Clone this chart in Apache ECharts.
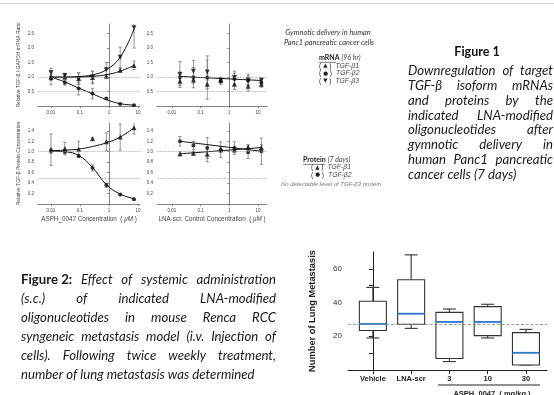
<!DOCTYPE html>
<html>
<head>
<meta charset="utf-8">
<script src="https://cdn.jsdelivr.net/npm/echarts@6/dist/echarts.min.js"></script>
<style>
html, body { margin: 0; padding: 0; background: #fff; }
#main { width: 554px; height: 395px; }
</style>
</head>
<body>
<div id="main"></div>
<script>
// concentrations (uM) used in the dose responses
var asphConc = [0.01, 0.03, 0.09, 0.27, 0.81, 2.43, 7.29];
var scrConc = [0.019, 0.056, 0.17, 0.5, 1.5, 4.5, 13];
var concTicks = [0.01, 0.1, 1, 10];
var concTickLabels = ['0.01', '0.1', '1', '10'];
var mrnaTicks = [0.5, 1.0, 1.5, 2.0, 2.5];
var proteinTicks = [0.2, 0.4, 0.6, 0.8, 1.0, 1.2, 1.4];

// mRNA (96 hr), ASPH_0047
var mrnaAsphB1 = [0.98, 1.0, 0.95, 0.98, 1.03, 1.23, 1.4];
var mrnaAsphB1Err = [0.1, 0.08, 0.2, 0.22, 0.05, 0.06, 0.15];
var mrnaAsphB1Fit = [0.99, 0.99, 1.0, 1.02, 1.08, 1.2, 1.4];
var mrnaAsphB2 = [0.98, 0.8, 0.6, 0.43, 0.26, 0.07, 0.03];
var mrnaAsphB2Err = [0.25, 0.08, 0.22, 0.18, 0.03, 0.02, 0.02];
var mrnaAsphB2Fit = [1.0, 0.83, 0.62, 0.42, 0.22, 0.08, 0.03];
var mrnaAsphB3 = [1.15, 1.05, 0.94, 1.0, 1.25, 1.68, 2.7];
var mrnaAsphB3Err = [0.15, 0.08, 0.2, 0.2, 0.25, 0.35, 0.7];
var mrnaAsphB3Fit = [1.0, 1.0, 1.02, 1.07, 1.25, 1.68, 2.65];

// mRNA (96 hr), LNA-scr control
var mrnaScrB1 = [0.86, 0.91, 0.75, 0.9, 0.75, 0.68, 0.75];
var mrnaScrB1Err = [0.15, 0.12, 0.15, 0.08, 0.18, 0.16, 0.1];
var mrnaScrB2 = [0.98, 0.98, 0.98, 0.85, 0.93, 0.88, 0.8];
var mrnaScrB2Err = [0.2, 0.35, 0.75, 0.1, 0.2, 0.15, 0.1];
var mrnaScrB3 = [1.09, 1.2, 1.17, 0.89, 0.98, 0.9, 0.89];
var mrnaScrB3Err = [0.45, 0.38, 0.42, 0.1, 0.22, 0.2, 0.08];
var mrnaScrFit = [1.02, 0.88];

// protein (7 days), ASPH_0047
var protAsphB1 = [1.04, 1.06, 1.05, 1.25, 1.19, 1.28, 1.46];
var protAsphB1Err = [0.3, 0.12, 0.15, 0.02, 0.17, 0.25, 0.12];
var protAsphB1Fit = [1.02, 1.03, 1.05, 1.1, 1.17, 1.28, 1.46];
var protAsphB2 = [1.02, 1.0, 0.92, 0.69, 0.36, 0.18, 0.09];
var protAsphB2Err = [0.05, 0.04, 0.03, 0.06, 0.04, 0.02, 0.02];
var protAsphB2Fit = [1.01, 1.0, 0.93, 0.7, 0.37, 0.19, 0.1];

// protein (7 days), LNA-scr control
var protScrB1 = [0.96, 0.97, 0.95, 1.04, 1.04, 1.09, 1.08];
var protScrB1Err = [0.04, 0.03, 0.14, 0.05, 0.05, 0.05, 0.05];
var protScrB1Fit = [0.96, 1.08];
var protScrB2 = [1.2, 1.12, 1.07, 1.04, 1.07, 0.99, 1.01];
var protScrB2Err = [0.09, 0.08, 0.2, 0.15, 0.12, 0.12, 0.25];
var protScrB2Fit = [1.2, 1.01];

// lung metastasis box plot: [min, Q1, median, Q3, max]
var metCategories = ['Vehicle', 'LNA-scr', '3', '10', '30'];
var metBoxes = [
    [19, 23.4, 27.3, 40.8, 49],
    [24.7, 27.1, 33.4, 53.5, 68.3],
    [5, 6.8, 28.5, 34.2, 36.2],
    [19, 20.4, 28.5, 37.6, 39],
    [3, 3, 10.2, 22.2, 24.1]
];
var metReference = 27;
var metTicks = [10, 20, 30, 40, 50, 60];
var metTickLabels = [20, 40, 60];

var fig1Lines = [
    'Downregulation of target',
    'TGF-\u03b2 isoform mRNAs',
    'and proteins by the',
    'indicated LNA-modified',
    'oligonucleotides after',
    'gymnotic delivery in',
    'human Panc1 pancreatic',
    'cancer cells (7 days)'
];
var fig2Lines = [
    '*Figure_2: Effect of systemic administration',
    '(s.c.) of indicated LNA-modified',
    'oligonucleotides in mouse Renca RCC',
    'syngeneic metastasis model (i.v. Injection of',
    'cells). Following twice weekly treatment,',
    'number of lung metastasis was determined'
];

var mychart = echarts.init(document.getElementById('main'));
var lg = function (c) { return Math.log10(c); };
var SANS = 'Liberation Sans';
var CAPTION = 'Lato';

function errorBarItem(params, api) {
    var x = api.value(0);
    var top = api.coord([x, api.value(2)]);
    var bot = api.coord([x, api.value(1)]);
    var w = 1.6;
    var st = { stroke: '#777', lineWidth: 0.8 };
    return {
        type: 'group',
        children: [
            { type: 'line', shape: { x1: top[0], y1: top[1], x2: bot[0], y2: bot[1] }, style: st },
            { type: 'line', shape: { x1: top[0] - w, y1: top[1], x2: top[0] + w, y2: top[1] }, style: st },
            { type: 'line', shape: { x1: bot[0] - w, y1: bot[1], x2: bot[0] + w, y2: bot[1] }, style: st }
        ]
    };
}

function panelSeries(gi, conc, groups) {
    var out = [];
    groups.forEach(function (g) {
        out.push({
            type: 'custom', xAxisIndex: gi, yAxisIndex: gi, clip: true, silent: true, z: 2,
            renderItem: errorBarItem,
            data: conc.map(function (c, i) { return [lg(c), g.vals[i] - g.errs[i], g.vals[i] + g.errs[i]]; })
        });
        if (g.fit) {
            var fx = g.fit.length === conc.length ? conc : [conc[0], conc[conc.length - 1]];
            out.push({
                type: 'line', xAxisIndex: gi, yAxisIndex: gi, showSymbol: false, smooth: 0.4, z: 3,
                lineStyle: { color: '#111', width: 1 }, silent: true,
                data: fx.map(function (c, i) { return [lg(c), g.fit[i]]; })
            });
        }
        out.push({
            type: 'scatter', xAxisIndex: gi, yAxisIndex: gi, z: 4, silent: true,
            symbol: g.symbol, symbolSize: g.symbol === 'circle' ? 4 : 5,
            symbolRotate: g.rotate || 0,
            itemStyle: { color: '#111' },
            data: conc.map(function (c, i) { return [lg(c), g.vals[i]]; })
        });
    });
    // dotted reference lines at 1.0 and 0.5
    out.push({
        type: 'line', xAxisIndex: gi, yAxisIndex: gi, data: [], silent: true,
        markLine: {
            silent: true, symbol: 'none', label: { show: false },
            lineStyle: { color: '#999', type: 'dotted', width: 0.8 },
            data: [{ yAxis: 1 }, { yAxis: 0.5 }]
        }
    });
    return out;
}

function concAxis(gi, min, max, name) {
    var ax = {
        type: 'value', gridIndex: gi, min: min, max: max,
        splitLine: { show: false },
        axisLine: { lineStyle: { color: '#666', width: 0.8 } },
        axisTick: { length: 2, lineStyle: { color: '#666', width: 0.8 }, customValues: concTicks.map(lg) },
        axisLabel: {
            customValues: concTicks.map(lg), fontSize: 4.5, color: '#444', fontFamily: SANS, margin: 4,
            formatter: function (v) { return concTickLabels[Math.round(v) + 2]; }
        }
    };
    if (name) {
        ax.name = name;
        ax.nameLocation = 'middle';
        ax.nameGap = 12;
        ax.nameTextStyle = { fontSize: 6.3, color: '#444', fontFamily: SANS, rich: { i: { fontStyle: 'italic', fontSize: 6.3, color: '#444', fontFamily: SANS } } };
    }
    return ax;
}

function ratioAxis(gi, max, ticks, name) {
    var ax = {
        type: 'value', gridIndex: gi, min: 0, max: max,
        splitLine: { show: false },
        axisLine: { show: true, lineStyle: { color: '#666', width: 0.8 } },
        axisTick: { show: true, length: 2, lineStyle: { color: '#666', width: 0.8 }, customValues: ticks },
        axisLabel: {
            customValues: ticks, fontSize: 4.5, color: '#444', fontFamily: SANS, margin: 4,
            formatter: function (v) { return v.toFixed(1); }
        }
    };
    if (name) {
        ax.name = name;
        ax.nameLocation = 'middle';
        ax.nameGap = 17;
        ax.nameTextStyle = { fontSize: 5, color: '#444', fontFamily: SANS };
    }
    return ax;
}

function boxItem(params, api) {
    var idx = api.value(0);
    var pMin = api.coord([idx, api.value(1)]);
    var pQ1 = api.coord([idx, api.value(2)]);
    var pMed = api.coord([idx, api.value(3)]);
    var pQ3 = api.coord([idx, api.value(4)]);
    var pMax = api.coord([idx, api.value(5)]);
    var cx = pMed[0], hw = 13.5, cw = 6.5;
    var st = { stroke: '#333', lineWidth: 1.1, fill: null };
    return {
        type: 'group',
        children: [
            { type: 'line', shape: { x1: cx, y1: pMax[1], x2: cx, y2: pQ3[1] }, style: st },
            { type: 'line', shape: { x1: cx, y1: pQ1[1], x2: cx, y2: pMin[1] }, style: st },
            { type: 'line', shape: { x1: cx - cw, y1: pMax[1], x2: cx + cw, y2: pMax[1] }, style: st },
            { type: 'line', shape: { x1: cx - cw, y1: pMin[1], x2: cx + cw, y2: pMin[1] }, style: st },
            { type: 'rect', shape: { x: cx - hw, y: pQ3[1], width: 2 * hw, height: pQ1[1] - pQ3[1] }, style: { stroke: '#333', lineWidth: 1.1, fill: '#fff' } },
            { type: 'line', shape: { x1: cx - hw, y1: pMed[1], x2: cx + hw, y2: pMed[1] }, style: { stroke: '#2a78cc', lineWidth: 1.8 } }
        ]
    };
}

// justified caption text, word by word
var measure = document.createElement('canvas').getContext('2d');
function justify(lines, left, right, y0, step, size) {
    var els = [];
    lines.forEach(function (line, li) {
        var words = line.split(' ').map(function (t) {
            var bold = t.charAt(0) === '*';
            var w = {
                text: bold ? t.slice(1).replace(/_/g, ' ') : t,
                fontStyle: bold ? 'normal' : 'italic',
                fontWeight: bold ? 'bold' : 'normal'
            };
            measure.font = w.fontStyle + ' ' + w.fontWeight + ' ' + size + 'px ' + CAPTION;
            w.width = measure.measureText(w.text).width;
            return w;
        });
        measure.font = 'italic normal ' + size + 'px ' + CAPTION;
        var space = measure.measureText(' ').width;
        var total = words.reduce(function (s, w) { return s + w.width; }, 0);
        var last = li === lines.length - 1;
        var gap = last ? space : (right - left - total) / (words.length - 1);
        var x = left;
        words.forEach(function (w) {
            els.push({
                type: 'text', x: x, y: y0 + li * step, silent: true,
                style: {
                    text: w.text, fontSize: size, fontFamily: CAPTION, fontStyle: w.fontStyle,
                    fontWeight: w.fontWeight, fill: '#1a1a1a', textAlign: 'left', textVerticalAlign: 'middle'
                }
            });
            x += w.width + gap;
        });
    });
    return els;
}

function label(x, y, text, opts) {
    var style = Object.assign({ text: text, fontFamily: SANS, fontSize: 7, fill: '#333', textAlign: 'left', textVerticalAlign: 'middle' }, opts || {});
    return { type: 'text', x: x, y: y, silent: true, style: style };
}

var symRich = {
    s: { fontFamily: 'DejaVu Sans', fontSize: 5.5, fill: '#222' },
    i: { fontStyle: 'italic', fontFamily: SANS, fontSize: 6.8, fill: '#444' },
    p: { fontFamily: SANS, fontSize: 6.8, fill: '#333' }
};
var headRich = {
    b: { fontWeight: 'bold', fontFamily: CAPTION, fontSize: 7, fill: '#222' },
    i: { fontStyle: 'italic', fontFamily: CAPTION, fontSize: 7, fill: '#444' }
};

var graphics = [
    { type: 'line', shape: { x1: 0, y1: 3.5, x2: 554, y2: 3.5 }, style: { stroke: '#d4d4d4', lineWidth: 1 }, silent: true },
    label(328, 33, 'Gymnotic delivery in human', { fontStyle: 'italic', fontSize: 7.4, textAlign: 'center', fontFamily: CAPTION }),
    label(329, 42.5, 'Panc1 pancreatic cancer cells', { fontStyle: 'italic', fontSize: 7.4, textAlign: 'center', fontFamily: CAPTION }),
    label(319, 58, '{b|mRNA} {i|(96 hr)}', { rich: headRich }),
    { type: 'line', shape: { x1: 319, y1: 62.3, x2: 336, y2: 62.3 }, style: { stroke: '#222', lineWidth: 0.6 }, silent: true },
    label(319, 66, '{p|( }{s|\u25b2}{p| )}  {i|TGF-\u03b21}', { rich: symRich }),
    label(319, 73.5, '{p|( }{s|\u25cf}{p| )}  {i|TGF-\u03b22}', { rich: symRich }),
    label(319, 81, '{p|( }{s|\u25bc}{p| )}  {i|TGF-\u03b23}', { rich: symRich }),
    label(303, 160, '{b|Protein} {i|(7 days)}', { rich: headRich }),
    { type: 'line', shape: { x1: 303, y1: 164.3, x2: 325, y2: 164.3 }, style: { stroke: '#222', lineWidth: 0.6 }, silent: true },
    label(311, 167.5, '{p|( }{s|\u25b2}{p| )}  {i|TGF-\u03b21}', { rich: symRich }),
    label(311, 175, '{p|( }{s|\u25cf}{p| )}  {i|TGF-\u03b22}', { rich: symRich }),
    label(331, 184, 'No detectable level of TGF-\u03b23 protein', { fontStyle: 'italic', fontSize: 6, fill: '#777', textAlign: 'center' }),
    label(477, 52, 'Figure 1', { fontFamily: CAPTION, fontWeight: 'bold', fontSize: 12.5, fill: '#111', textAlign: 'center' }),
    { type: 'line', shape: { x1: 438, y1: 385, x2: 540, y2: 385 }, style: { stroke: '#222', lineWidth: 1 }, silent: true },
    label(492, 393.5, 'ASPH_0047  ( mg/kg )', { fontWeight: 'bold', fontSize: 7.5, fill: '#222', textAlign: 'center' })
].concat(justify(fig1Lines, 408, 553, 71, 14.8, 13.2))
 .concat(justify(fig2Lines, 21, 276, 279.5, 19, 13.2));

var series = []
    .concat(panelSeries(0, asphConc, [
        { vals: mrnaAsphB1, errs: mrnaAsphB1Err, fit: mrnaAsphB1Fit, symbol: 'triangle' },
        { vals: mrnaAsphB2, errs: mrnaAsphB2Err, fit: mrnaAsphB2Fit, symbol: 'circle' },
        { vals: mrnaAsphB3, errs: mrnaAsphB3Err, fit: mrnaAsphB3Fit, symbol: 'triangle', rotate: 180 }
    ]))
    .concat(panelSeries(1, scrConc, [
        { vals: mrnaScrB1, errs: mrnaScrB1Err, fit: mrnaScrFit, symbol: 'triangle' },
        { vals: mrnaScrB2, errs: mrnaScrB2Err, symbol: 'circle' },
        { vals: mrnaScrB3, errs: mrnaScrB3Err, symbol: 'triangle', rotate: 180 }
    ]))
    .concat(panelSeries(2, asphConc, [
        { vals: protAsphB1, errs: protAsphB1Err, fit: protAsphB1Fit, symbol: 'triangle' },
        { vals: protAsphB2, errs: protAsphB2Err, fit: protAsphB2Fit, symbol: 'circle' }
    ]))
    .concat(panelSeries(3, scrConc, [
        { vals: protScrB1, errs: protScrB1Err, fit: protScrB1Fit, symbol: 'triangle' },
        { vals: protScrB2, errs: protScrB2Err, fit: protScrB2Fit, symbol: 'circle' }
    ]));

series.push({
    type: 'custom', xAxisIndex: 4, yAxisIndex: 4, silent: true, z: 3,
    renderItem: boxItem,
    encode: { x: 0, y: [1, 2, 3, 4, 5] },
    data: metBoxes.map(function (b, i) { return [i].concat(b); })
});
series.push({
    type: 'line', xAxisIndex: 4, yAxisIndex: 4, data: [], silent: true, z: 2,
    markLine: {
        silent: true, symbol: 'none', label: { show: false },
        lineStyle: { color: '#888', type: 'dashed', width: 0.8 },
        data: [{ yAxis: metReference }]
    }
});

var option = {
    animation: false,
    backgroundColor: '#fff',
    grid: [
        { left: 38, top: 24, width: 102, height: 82 },
        { left: 157, top: 24, width: 110, height: 82 },
        { left: 38, top: 123, width: 102, height: 81 },
        { left: 157, top: 123, width: 110, height: 81 },
        { left: 348, top: 252, width: 199, height: 118 }
    ],
    xAxis: [
        concAxis(0, -2.448, 1.069),
        concAxis(1, -2.52, 1.31),
        concAxis(2, -2.448, 1.069, 'ASPH_0047 Concentration  ( {i|\u03bcM} )'),
        concAxis(3, -2.52, 1.31, 'LNA-scr. Control Concentration  ( {i|\u03bcM} )'),
        {
            type: 'value', gridIndex: 4, min: -0.65, max: 4.55,
            splitLine: { show: false },
            axisLine: { lineStyle: { color: '#222', width: 1 } },
            axisTick: { length: 4, lineStyle: { color: '#222' }, customValues: [0, 1, 2, 3, 4] },
            axisLabel: {
                customValues: [0, 1, 2, 3, 4], fontSize: 7.5, fontWeight: 'bold', color: '#222', fontFamily: SANS, margin: 5,
                formatter: function (v) { return metCategories[Math.round(v)]; }
            }
        }
    ],
    yAxis: [
        ratioAxis(0, 2.83, mrnaTicks, 'Relative TGF-\u03b2 / GAPDH mRNA Ratio'),
        ratioAxis(1, 2.83, mrnaTicks),
        ratioAxis(2, 1.55, proteinTicks, 'Relative TGF-\u03b2 Protein Concentration'),
        ratioAxis(3, 1.55, proteinTicks),
        {
            type: 'value', gridIndex: 4, min: 0, max: 70,
            name: 'Number of Lung Metastasis', nameLocation: 'middle', nameGap: 31,
            nameTextStyle: { fontSize: 9.3, fontWeight: 'bold', color: '#222', fontFamily: SANS },
            splitLine: { show: false },
            axisLine: { show: true, lineStyle: { color: '#222', width: 1 } },
            axisTick: { show: true, length: 4, lineStyle: { color: '#222' }, customValues: metTicks },
            axisLabel: { customValues: metTickLabels, fontSize: 8, color: '#333', fontFamily: SANS, margin: 6 }
        }
    ],
    graphic: graphics,
    series: series
};

mychart.setOption(option);
</script>
</body>
</html>
